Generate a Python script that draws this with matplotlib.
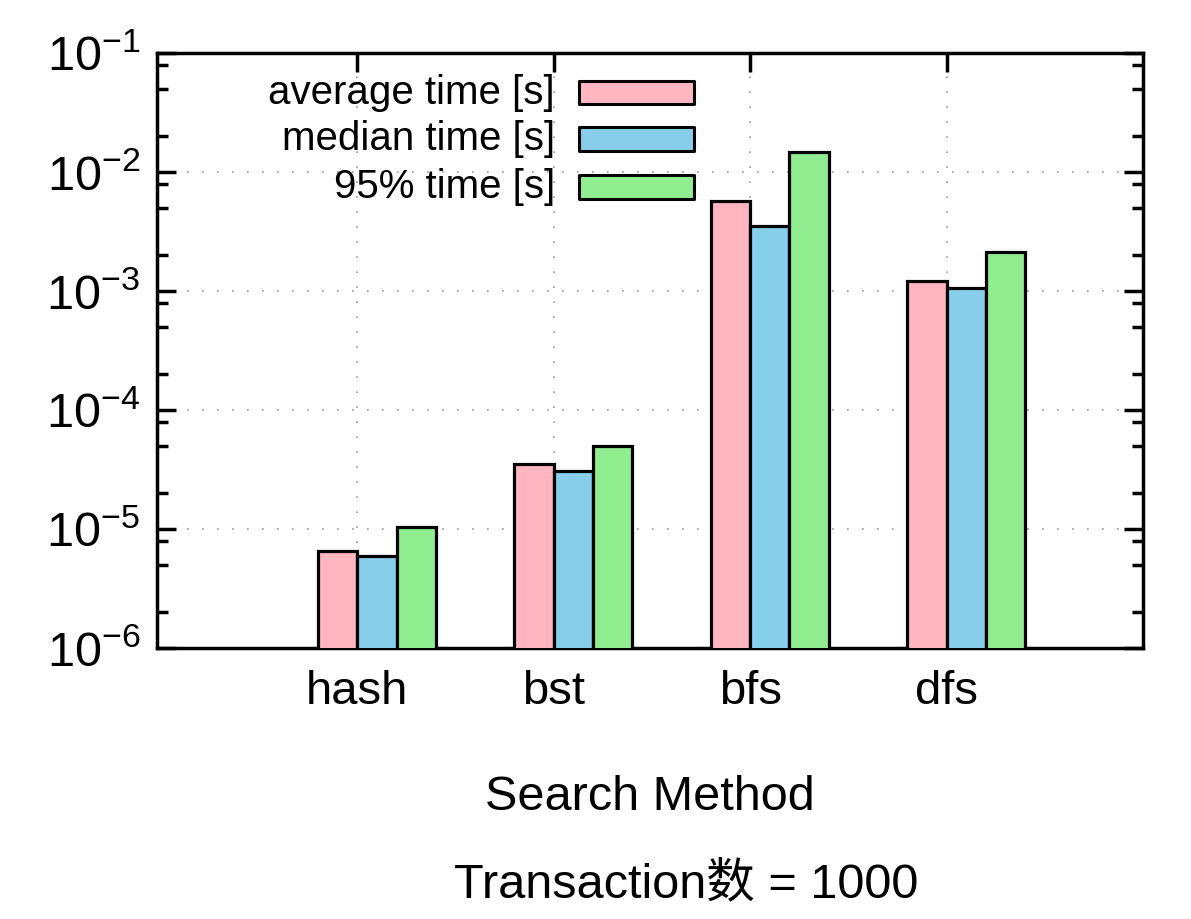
import matplotlib
matplotlib.use("Agg")
import matplotlib.pyplot as plt
import numpy as np
from matplotlib.patches import Rectangle
from matplotlib.ticker import FixedLocator, LogLocator, NullFormatter

plt.rcParams['font.family'] = ['Liberation Sans', 'Noto Sans CJK SC', 'DejaVu Sans']
plt.rcParams['mathtext.fontset'] = 'custom'
plt.rcParams['mathtext.rm'] = 'Liberation Sans'
plt.rcParams['mathtext.it'] = 'Liberation Sans'

categories = ["hash", "bst", "bfs", "dfs"]
series_labels = ["average time [s]", "median time [s]", "95% time [s]"]
average_time = [6.5e-6, 3.5e-5, 5.7e-3, 1.21e-3]
median_time = [5.9e-6, 3.1e-5, 3.5e-3, 1.06e-3]
p95_time = [1.04e-5, 5.0e-5, 1.47e-2, 2.13e-3]
colors = ["#FFB6C1", "#87CEEB", "#90EE90"]
ytick_vals = [1e-6, 1e-5, 1e-4, 1e-3, 1e-2, 1e-1]
ytick_labels = [r"$\mathregular{10^{-6}}$", r"$\mathregular{10^{-5}}$", r"$\mathregular{10^{-4}}$",
                r"$\mathregular{10^{-3}}$", r"$\mathregular{10^{-2}}$", r"$\mathregular{10^{-1}}$"]

fig = plt.figure(figsize=(11.91, 9.19), dpi=100)
ax = fig.add_axes([157/1191, 1-648/919, (1143-157)/1191, (648-53)/919])

x = np.arange(len(categories))
width = 0.2
offsets = [-0.1, 0.1, 0.3]
for vals, off, c in zip([average_time, median_time, p95_time], offsets, colors):
    ax.bar(x + off, vals, width=width, color=c, edgecolor='black',
           linewidth=2.3, zorder=3)

ax.set_yscale('log')
ax.set_ylim(1e-6, 1e-1)
ax.set_xlim(-1.02, 4.0)

ax.yaxis.set_major_locator(FixedLocator(ytick_vals))
ax.set_yticklabels(ytick_labels, fontsize=35)
ax.yaxis.set_minor_locator(LogLocator(base=10, subs=[2, 5, 8], numticks=20))
ax.yaxis.set_minor_formatter(NullFormatter())

ax.set_xticks(x)
ax.set_xticklabels(categories, fontsize=34)

ax.tick_params(axis='y', which='major', direction='in', length=14, width=2.5,
               left=True, right=True, pad=12)
ax.tick_params(axis='y', which='minor', direction='in', length=8, width=2.5,
               left=True, right=True)
ax.tick_params(axis='x', which='major', direction='in', length=14, width=2.5,
               top=True, bottom=True, pad=16)

for s in ax.spines.values():
    s.set_linewidth(2.5)

ax.grid(True, which='major', axis='both', color='#999999', linewidth=1.2,
        linestyle=(0, (1, 8)), zorder=0)
ax.set_axisbelow(True)

ax.set_xlabel("Search Method", fontsize=35, labelpad=44)

# legend (gnuplot style: text right-aligned, sample box on the right)
leg_y = [0.9336, 0.8555, 0.7748]
for lab, c, yy in zip(series_labels, colors, leg_y):
    ax.text(0.4037, yy, lab, transform=ax.transAxes, ha='right', va='center',
            fontsize=29, zorder=5)
    ax.add_patch(Rectangle((0.428, yy - 0.0195), 0.1166, 0.039, transform=ax.transAxes,
                           facecolor=c, edgecolor='black', linewidth=2.2,
                           joinstyle='round', zorder=5))

fig.text(686/1191, 1-885/919, "Transaction数 = 1000", ha='center', va='center',
         fontsize=35, family=['Liberation Sans', 'Noto Sans CJK SC', 'DejaVu Sans'])

fig.savefig("out.png", dpi=100)
